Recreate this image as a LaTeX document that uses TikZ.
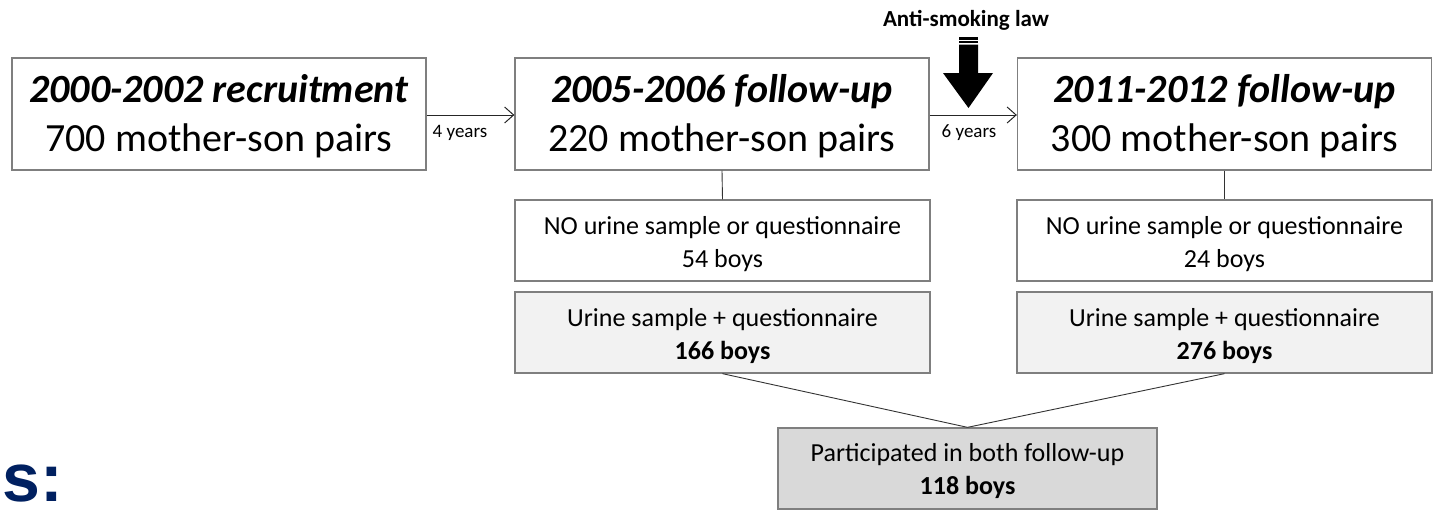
\documentclass[tikz,border=0pt]{standalone}
\usepackage{fontspec}
\setmainfont{Carlito}
\newfontfamily\titlefont{Liberation Sans}
\usetikzlibrary{arrows.meta}
\definecolor{boxgray}{HTML}{7F7F7F}
\definecolor{lightfill}{HTML}{F2F2F2}
\definecolor{midfill}{HTML}{D9D9D9}
\definecolor{navy}{HTML}{002060}
\tikzset{
  bigbox/.style={draw=boxgray, line width=1.3pt, inner sep=0pt, minimum width=414pt, minimum height=112pt},
  bigtext/.style={inner sep=0pt, align=center, font=\fontsize{40}{49}\selectfont},
  smallbox/.style={draw=boxgray, line width=1.3pt, inner sep=0pt, minimum width=415pt, minimum height=81pt},
  smalltext/.style={inner sep=0pt, align=center, font=\fontsize{26}{33}\selectfont},
  conn/.style={draw=black!80, line width=0.9pt},
  timearrow/.style={draw=black!85, line width=1pt, -{Straight Barb[length=9pt,width=16pt,line width=1pt]}},
  yearlabel/.style={font=\fontsize{19}{22}\selectfont, inner sep=0pt}
}
\begin{document}
\begin{tikzpicture}[x=1pt,y=-1pt]
\useasboundingbox (0,0) rectangle (1441,509);
% main boxes
\node[bigbox] (A) at (219,114) {};
\node[bigbox] (B) at (722,114) {};
\node[bigbox] (C) at (1224.5,114) {};
\node[bigtext] (At) at ([yshift=-2pt]A.center) {\textbf{\textit{2000-2002 recruitment}}\\700 mother-son pairs};
\node[bigtext] (Bt) at ([yshift=-2pt]B.center) {\textbf{\textit{2005-2006 follow-up}}\\220 mother-son pairs};
\node[bigtext] (Ct) at ([yshift=-2pt]C.center) {\textbf{\textit{2011-2012 follow-up}}\\300 mother-son pairs};
% sub boxes
\node[smallbox] (D) at (722.5,240.5) {};
\node[smallbox, fill=lightfill] (E) at (722.5,332.5) {};
\node[smallbox] (F) at (1224.5,240.5) {};
\node[smallbox, fill=lightfill] (G) at (1224.5,332.5) {};
\node[smallbox, fill=midfill, minimum width=379pt] (H) at (967.5,468.5) {};
\node[smalltext] (Dt) at ([yshift=-3.5pt]D.center) {NO urine sample or questionnaire\\54 boys};
\node[smalltext] (Et) at ([yshift=-3.5pt]E.center) {Urine sample + questionnaire\\\textbf{166 boys}};
\node[smalltext] (Ft) at ([yshift=-3.5pt]F.center) {NO urine sample or questionnaire\\24 boys};
\node[smalltext] (Gt) at ([yshift=-3.5pt]G.center) {Urine sample + questionnaire\\\textbf{276 boys}};
\node[smalltext] (Ht) at ([yshift=-3pt]H.center) {Participated in both follow-up\\\textbf{118 boys}};
% time arrows
\draw[timearrow] (A.east |- 0,115) -- (B.west |- 0,115);
\draw[timearrow] (B.east |- 0,115) -- (C.west |- 0,115);
\node[yearlabel] (l4) at (460,132.5) {4 years};
\node[yearlabel] (l6) at (969,132.5) {6 years};
% vertical connectors
\draw[conn] (B.south) -- (D.north);
\draw[conn] (C.south -| F.north) -- (F.north);
% merge lines
\coordinate (m) at (H.north);
\draw[conn] (E.south) -- (m);
\draw[conn] (G.south) -- (m);
% anti-smoking law
\node[font=\bfseries\fontsize{23}{26}\selectfont, inner sep=0pt] (law) at (966,20) {Anti-smoking law};
\fill[black] (959,37) rectangle (978,39.5);
\fill[black] (959,41) rectangle (978,43);
\fill[black] (959,44.5) -- (978,44.5) -- (978,73) -- (993,73) -- (968.5,108) -- (943,73) -- (959,73) -- cycle;
% slide title fragment
\node[anchor=base west, inner sep=0pt, text=navy, font=\titlefont\bfseries\fontsize{68}{70}\selectfont] (title) at (2,501) {s:};
\end{tikzpicture}
\end{document}
